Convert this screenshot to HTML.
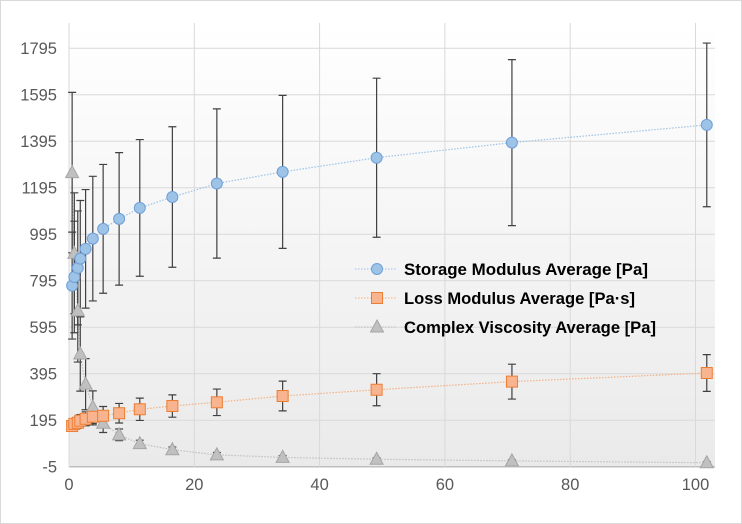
<!DOCTYPE html>
<html><head><meta charset="utf-8"><style>
html,body{margin:0;padding:0;background:#fff;}
svg{display:block;font-family:"Liberation Sans",Arial,sans-serif;}
</style></head><body>
<svg id="chart" width="742" height="524" viewBox="0 0 742 524" xmlns="http://www.w3.org/2000/svg">
<defs><linearGradient id="bg" x1="0" y1="0" x2="0" y2="1"><stop offset="0" stop-color="#ffffff"/><stop offset="1" stop-color="#eaeaea"/></linearGradient></defs>
<rect x="0.5" y="0.5" width="741" height="523" fill="#fff" stroke="#d9d9d9"/>
<rect x="69" y="23" width="646" height="444" fill="url(#bg)"/>
<g id="grid"></g><g id="axes"></g><g id="trend"></g><g id="errs"></g><g id="marks"></g><g id="legend"></g>
</svg>
<script>
const xVals=[0.5,0.85,1.4,1.8,2.65,3.8,5.45,8.0,11.3,16.5,23.6,34.1,49.1,70.7,101.8];
const storage=[774,811,850,890,932,976,1018,1061,1108,1155,1213,1263,1324,1389,1465];
const storageErr=[230,240,245,250,255,268,277,285,294,302,321,329,342,357,352];
const loss=[170,179,184,193,201,210,214,225,242,256,272,299,326,361,398];
const lossErr=[20,22,24,26,30,35,40,42,48,48,57,64,69,75,79];
const visc=[1260,913,665,480,350,251,182,132,94,68,46,35,27,20,12];
const viscErr=[345,260,220,160,110,70,40,25,15,12,10,8,6,5,5];
const xTicks=[0,20,40,60,80,100];
const yTicks=[-5,195,395,595,795,995,1195,1395,1595,1795];
const NS="http://www.w3.org/2000/svg";
const X=v=>69+v*6.265;
const Y=v=>466.7-(v+5)*0.2325;
function mk(tag,attrs,parent,text){const e=document.createElementNS(NS,tag);for(const k in attrs)e.setAttribute(k,attrs[k]);if(text!==undefined)e.textContent=text;document.getElementById(parent).appendChild(e);return e;}
yTicks.forEach(t=>{
 const l=mk('line',{x1:69,x2:715,y1:Y(t),y2:Y(t),stroke:t===-5?'#bfbfbf':'#d9d9d9','stroke-width':t===-5?1.5:1},'grid');
 
 
 const tx=mk('text',{x:57,y:Y(t)+6,'text-anchor':'end','font-size':16.5,fill:'#595959'},'axes',String(t));
 
 
});
xTicks.forEach(t=>{
 const l=mk('line',{x1:X(t),x2:X(t),y1:23,y2:466.7,stroke:'#d9d9d9'},'grid');
 
 
 const tx=mk('text',{x:X(t),y:490,'text-anchor':'middle','font-size':16.5,fill:'#595959'},'axes',String(t));
 
 
});
const series=[
 {name:'storage',vals:storage,errs:storageErr,line:'#9dc3e6',fill:'#9dc3e6',stroke:'#6f9fd8',shape:'circle'},
 {name:'loss',vals:loss,errs:lossErr,line:'#f4b183',fill:'#f8b48e',stroke:'#ed7d31',shape:'square'},
 {name:'viscosity',vals:visc,errs:viscErr,line:'#bfbfbf',fill:'#c0c0c0',stroke:'#a5a5a5',shape:'triangle'}
];
function marker(s,cx,cy,parent){
 let e;
 if(s.shape==='circle')e=mk('circle',{cx:cx,cy:cy,r:5.5,fill:s.fill,stroke:s.stroke},parent);
 else if(s.shape==='square')e=mk('rect',{x:cx-5.5,y:cy-5.5,width:11,height:11,fill:s.fill,stroke:s.stroke},parent);
 else e=mk('polygon',{points:`${cx},${cy-7} ${cx+6.5},${cy+5} ${cx-6.5},${cy+5}`,fill:s.fill,stroke:s.stroke},parent);
 return e;
}
series.forEach(s=>{
 const pts=xVals.map((x,i)=>X(x)+','+Y(s.vals[i])).join(' ');
 const pl=mk('polyline',{points:pts,fill:'none',stroke:s.line,'stroke-width':1.2,'stroke-dasharray':'1.5 1.5'},'trend');
 
 
 xVals.forEach((x,i)=>{
  const cx=X(x),t=Y(s.vals[i]+s.errs[i]),b=Y(s.vals[i]-s.errs[i]);
  const eb=mk('path',{d:`M${cx},${t}V${b}M${cx-4},${t}H${cx+4}M${cx-4},${b}H${cx+4}`,stroke:'#404040','stroke-width':1.2,fill:'none'},'errs');
  
  
 });
});
series.slice().reverse().forEach(s=>{
 xVals.forEach((x,i)=>{
  const m=marker(s,X(x),Y(s.vals[i]),'marks');
  
  
 });
});
const labels=['Storage Modulus Average  [Pa]','Loss Modulus Average [Pa\u00b7s]','Complex Viscosity Average [Pa]'];
const labelW=[244,231,252];
series.forEach((s,i)=>{
 const y=269+i*29;
 const ll=mk('line',{x1:355,x2:397,y1:y,y2:y,stroke:s.line,'stroke-dasharray':'1.5 1.5'},'legend');
 
 
 const m=marker(s,377,y,'legend');
 
 
 const t=mk('text',{x:404,y:y+6,'font-size':16.5,'font-weight':'bold',fill:'#000','xml:space':'preserve',textLength:labelW[i],lengthAdjust:'spacingAndGlyphs'},'legend',labels[i]);
 
 
});
</script>
</body></html>
